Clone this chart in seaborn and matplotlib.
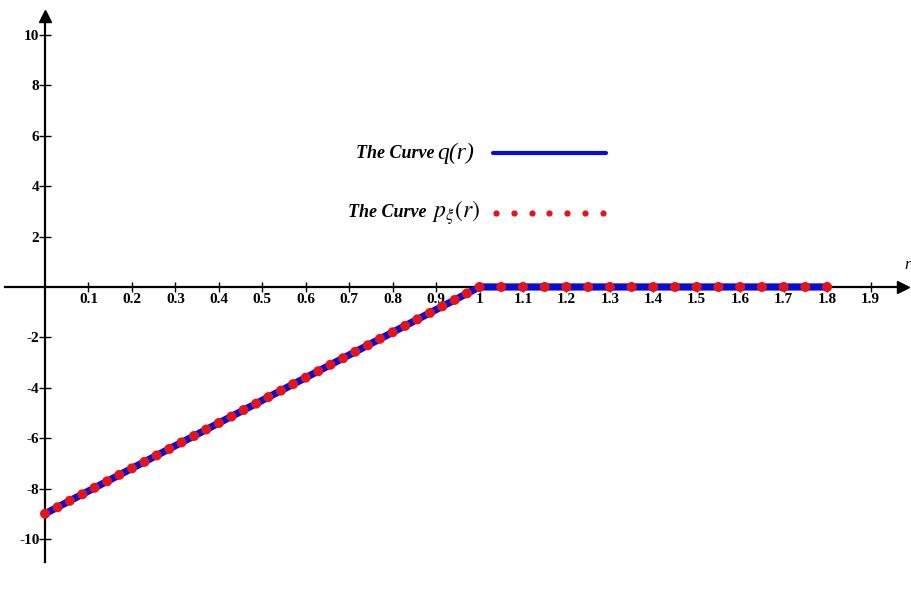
import matplotlib
matplotlib.use("Agg")
import matplotlib.pyplot as plt
import seaborn as sns
import pandas as pd

# q(r): piecewise-linear curve (vertices)
q_r = [0.0, 1.0, 1.8]
q_val = [-9.0, 0.0, 0.0]

# p_xi(r): sampled points lying on the same curve
p_r = [0.000, 0.029, 0.057, 0.086, 0.114, 0.143, 0.171, 0.200, 0.229, 0.257,
       0.286, 0.314, 0.343, 0.371, 0.400, 0.429, 0.457, 0.486, 0.514, 0.543,
       0.571, 0.600, 0.629, 0.657, 0.686, 0.714, 0.743, 0.771, 0.800, 0.829,
       0.857, 0.886, 0.914, 0.943, 0.971, 1.000,
       1.05, 1.10, 1.15, 1.20, 1.25, 1.30, 1.35, 1.40, 1.45, 1.50, 1.55,
       1.60, 1.65, 1.70, 1.75, 1.80]
p_val = [-9.000, -8.743, -8.486, -8.229, -7.971, -7.714, -7.457, -7.200, -6.943, -6.686,
         -6.429, -6.171, -5.914, -5.657, -5.400, -5.143, -4.886, -4.629, -4.371, -4.114,
         -3.857, -3.600, -3.343, -3.086, -2.829, -2.571, -2.314, -2.057, -1.800, -1.543,
         -1.286, -1.029, -0.771, -0.514, -0.257, 0.000,
         0.0, 0.0, 0.0, 0.0, 0.0, 0.0, 0.0, 0.0, 0.0, 0.0, 0.0,
         0.0, 0.0, 0.0, 0.0, 0.0]

x_ticks = [0.1, 0.2, 0.3, 0.4, 0.5, 0.6, 0.7, 0.8, 0.9, 1.0,
           1.1, 1.2, 1.3, 1.4, 1.5, 1.6, 1.7, 1.8, 1.9]
x_labels = ["0.1", "0.2", "0.3", "0.4", "0.5", "0.6", "0.7", "0.8", "0.9", "1",
            "1.1", "1.2", "1.3", "1.4", "1.5", "1.6", "1.7", "1.8", "1.9"]
y_ticks = [-10, -8, -6, -4, -2, 2, 4, 6, 8, 10]
y_labels = ["-10", "-8", "-6", "-4", "-2", "2", "4", "6", "8", "10"]

sns.set_style("white")
plt.rcParams["font.family"] = ["Liberation Serif", "DejaVu Serif"]
plt.rcParams["mathtext.fontset"] = "stix"
plt.rcParams["text.color"] = "black"

BLUE = "#0b0bd6"
RED = "#e3151c"

fig = plt.figure(figsize=(9.12, 6.14), dpi=100)
ax = fig.add_axes([0, 0, 1, 1])

q_df = pd.DataFrame({"r": q_r, "q": q_val})
p_df = pd.DataFrame({"r": p_r, "p": p_val})

sns.lineplot(data=q_df, x="r", y="q", ax=ax, color=BLUE, linewidth=5.2,
             estimator=None, sort=False, zorder=3)
ax.lines[-1].set_solid_joinstyle("miter")
sns.scatterplot(data=p_df, x="r", y="p", ax=ax, color=RED, s=52,
                edgecolor="none", linewidth=0, zorder=4)

ax.set_xlim(-0.1036, 1.9954)
ax.set_ylim(-12.98, 11.39)
ax.set_xlabel("")
ax.set_ylabel("")

# axes crossing at the origin
for side in ("top", "right"):
    ax.spines[side].set_visible(False)
ax.spines["left"].set_position(("data", 0))
ax.spines["bottom"].set_position(("data", 0))
ax.spines["left"].set_bounds(-10.9, 10.8)
ax.spines["bottom"].set_bounds(-0.092, 1.975)
for side in ("left", "bottom"):
    ax.spines[side].set_linewidth(1.6)
    ax.spines[side].set_color("black")

# arrow heads
ax.plot([0], [10.75], marker="^", color="black", markersize=8, clip_on=False, zorder=5)
ax.plot([1.975], [0], marker=">", color="black", markersize=8, clip_on=False, zorder=5)

ax.set_xticks(x_ticks)
ax.set_xticklabels(x_labels, fontweight="bold", fontsize=11)
ax.set_yticks(y_ticks)
ax.set_yticklabels(y_labels, fontweight="bold", fontsize=11)
ax.tick_params(axis="x", bottom=True, direction="inout", length=7, width=1,
               pad=1, colors="black")
ax.tick_params(axis="y", left=True, direction="inout", length=8, width=1,
               pad=0, colors="black")

ax.text(1.985, 0.55, "r", fontsize=12, fontstyle="italic", ha="center", va="bottom")

# legend
fig.text(435 / 912, 1 - 153 / 614, "The Curve", fontsize=13, fontstyle="italic",
         fontweight="bold", ha="right", va="center", color="black")
fig.text(437 / 912, 1 - 153 / 614, "q(r)", fontsize=17, fontstyle="italic",
         ha="left", va="center", color="black")
fig.text(427 / 912, 1 - 213 / 614, "The Curve", fontsize=13, fontstyle="italic",
         fontweight="bold", ha="right", va="center", color="black")
fig.text(432 / 912, 1 - 213 / 614, r"$p_{\xi}(r)$", fontsize=17, ha="left",
         va="center", color="black")
fig.add_artist(plt.Line2D([493 / 912, 606 / 912], [1 - 153 / 614, 1 - 153 / 614],
                          color=BLUE, linewidth=3, transform=fig.transFigure))
fig.add_artist(plt.Line2D([(496 + 17.8 * i) / 912 for i in range(7)],
                          [1 - 213 / 614] * 7, linestyle="none", marker="o",
                          markersize=4.5, color=RED, markeredgewidth=0,
                          transform=fig.transFigure))

fig.savefig("out.png", dpi=100, facecolor="white")
